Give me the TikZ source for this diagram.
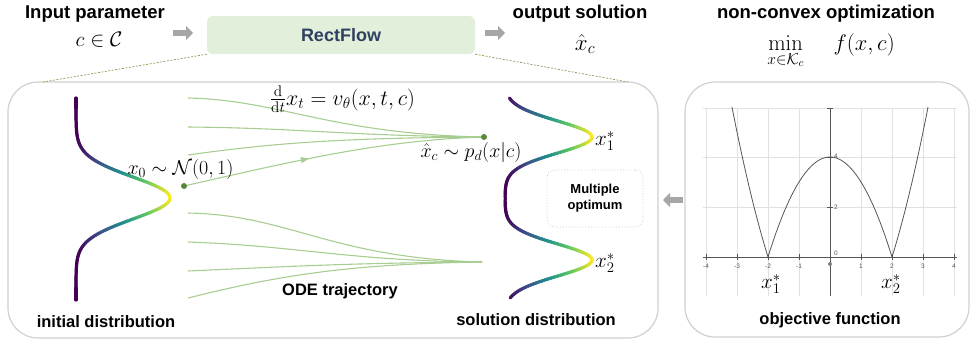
\RequirePackage{fix-cm}
\documentclass[tikz,border=0pt]{standalone}
\usepackage[no-math]{fontspec}
\usepackage{amsmath}
\newfontfamily\lsans{Liberation Sans}
\usetikzlibrary{arrows.meta,decorations.markings,calc}
\definecolor{virA}{RGB}{68,1,84}
\definecolor{virB}{RGB}{59,82,139}
\definecolor{virC}{RGB}{33,145,140}
\definecolor{virD}{RGB}{94,201,98}
\definecolor{virE}{RGB}{253,231,37}
\definecolor{traj}{RGB}{168,205,145}
\definecolor{dotg}{RGB}{90,135,60}
\definecolor{boxg}{RGB}{226,239,218}
\definecolor{navy}{RGB}{47,64,96}
\definecolor{arrg}{RGB}{166,166,166}
\definecolor{panelc}{RGB}{208,208,208}
\definecolor{dashg}{RGB}{130,160,90}
\definecolor{gridc}{RGB}{225,225,225}
\definecolor{axc}{RGB}{85,85,85}
\newcommand\setvir[1]{%
  \pgfmathsetmacro\vt{min(max(#1,0),1)*4}%
  \pgfmathtruncatemacro\vk{min(floor(\vt),3)}%
  \pgfmathtruncatemacro\vp{(\vt-\vk)*100}%
  \ifcase\vk \colorlet{cur}{virB!\vp!virA}\or \colorlet{cur}{virC!\vp!virB}\or
  \colorlet{cur}{virD!\vp!virC}\or \colorlet{cur}{virE!\vp!virD}\fi}
\begin{document}
\begin{tikzpicture}[x=1pt,y=-1pt,
  title/.style={font=\lsans\bfseries\fontsize{18.5}{20}\selectfont},
  lab/.style={font=\lsans\bfseries\fontsize{16.5}{18}\selectfont},
  mth/.style={font=\fontsize{20}{22}\selectfont, inner sep=1pt, anchor=base},
  mthb/.style={font=\fontsize{21}{24}\selectfont, inner sep=1pt},
  trajline/.style={traj, line width=1.1pt},
  blockarrow/.style={arrg, line width=6pt, -{Triangle[length=7pt,width=14pt]}},
  dashline/.style={dashg, dashed, dash pattern=on 2pt off 1.5pt, line width=0.7pt},
  panel/.style={draw=panelc, line width=1.2pt, rounded corners=30pt},
  gridl/.style={gridc, line width=0.8pt},
  axl/.style={axc, line width=0.8pt},
  ticklab/.style={font=\lsans\fontsize{6.5}{7}\selectfont, text=axc, inner sep=1pt},
  distc/.style={line width=3.2pt, line cap=round},
]
\useasboundingbox (0,0) rectangle (974,341);

% ---------- top row ----------
\node[title] (inp) at (95,14) {Input parameter};
\node[mthb, anchor=base] (cin) at (99,46.5) {$c\in\mathcal{C}$};
\node[title] (outs) at (580,14) {output solution};
\node[font=\fontsize{23}{26}\selectfont, inner sep=1pt, anchor=base] (xhat) at (585,50) {$\hat{x}_c$};
\node[title] (ncvx) at (826,14) {non-convex optimization};
\node[font=\fontsize{22.5}{26}\selectfont, inner sep=1pt, anchor=base] (minf) at (831,50)
  {$\displaystyle\min_{x\in\mathcal{K}_c}\hspace{26pt} f(x,c)$};
\node[fill=boxg, rounded corners=6pt, minimum width=268pt, minimum height=38pt,
      font=\lsans\bfseries\fontsize{18}{20}\selectfont, text=navy] (rect) at (341,35) {RectFlow};

\coordinate (a1s) at (173,33); \coordinate (a1e) at (193,33);
\coordinate (a2s) at (485,33); \coordinate (a2e) at (505,33);
\coordinate (a3s) at (683,200); \coordinate (a3e) at (663,200);
\draw[blockarrow] (a1s) -- (a1e);
\draw[blockarrow] (a2s) -- (a2e);
\draw[blockarrow] (a3s) -- (a3e);

% ---------- panels ----------
\node[panel, minimum width=650pt, minimum height=256pt] (lpanel) at (333,210) {};
\node[panel, minimum width=284pt, minimum height=255pt] (rpanel) at (827,209.5) {};
\coordinate (dl) at (43,82); \coordinate (dr) at (628,82);
\draw[dashline] (rect.south west) -- (dl);
\draw[dashline] (rect.south east) -- (dr);

% ---------- initial distribution ----------
\foreach \i in {98,...,299}{
  \pgfmathsetmacro\va{exp(-0.5*((\i-198)/21)^2)}
  \pgfmathsetmacro\vb{exp(-0.5*((\i+1-198)/21)^2)}
  \setvir{(\va+\vb)/2}
  \draw[distc, cur] ({76+94*\va},\i) -- ({76+94*\vb},\i+1);
}
% ---------- solution distribution ----------
\foreach \i in {98,...,297}{
  \pgfmathsetmacro\va{exp(-0.5*((\i-137)/16)^2)+exp(-0.5*((\i-260)/16)^2)}
  \pgfmathsetmacro\vb{exp(-0.5*((\i+1-137)/16)^2)+exp(-0.5*((\i+1-260)/16)^2)}
  \setvir{(\va+\vb)/2}
  \draw[distc, cur] ({505+87*\va},\i) -- ({505+87*\vb},\i+1);
}

% ---------- trajectories ----------
\coordinate (s1) at (188,98);  \coordinate (s2) at (188,127);
\coordinate (s3) at (188,155); \coordinate (x0dot) at (184,186);
\coordinate (s5) at (188,213); \coordinate (s6) at (188,242);
\coordinate (s7) at (188,271); \coordinate (s8) at (188,298);
\coordinate (e1) at (484,137); \coordinate (e2) at (482,262);
\draw[trajline] (s1) .. controls (280,100) and (330,134) .. (e1);
\draw[trajline] (s2) .. controls (300,128) and (350,136) .. (e1);
\draw[trajline] (s3) .. controls (280,142) and (350,138) .. (e1);
\draw[trajline, postaction={decorate},
  decoration={markings, mark=at position 0.42 with {\arrow{Triangle[length=8pt,width=6pt]}}}]
  (x0dot) .. controls (290,162) and (380,140) .. (e1);
\draw[trajline] (s5) .. controls (290,215) and (330,258) .. (e2);
\draw[trajline] (s6) .. controls (300,246) and (350,261) .. (e2);
\draw[trajline] (s7) .. controls (300,266) and (350,263) .. (e2);
\draw[trajline] (s8) .. controls (280,275) and (350,264) .. (e2);
\fill[dotg] (x0dot) circle (3pt);
\fill[dotg] (e1) circle (3pt);

\node[mth] (x0lab) at (180.5,174) {$x_0\sim\mathcal{N}(0,1)$};
\node[mth, font=\fontsize{22}{24}\selectfont] (ode) at (342.5,105) {$\frac{\mathrm{d}}{\mathrm{d}t}x_t = v_\theta(x,t,c)$};
\node[mth] (xclab) at (471,157) {$\hat{x}_c\sim p_d(x|c)$};
\node[mthb, anchor=west] (x1r) at (594,141) {$x_1^*$};
\node[mthb, anchor=west] (x2r) at (594,263) {$x_2^*$};
\node[draw=gray!45, dotted, line width=0.8pt, rounded corners=8pt, minimum width=96pt, minimum height=57pt,
      align=center, font=\lsans\bfseries\fontsize{13}{16}\selectfont] (mult) at (595,198.5) {Multiple\\optimum};

\node[lab] (initd) at (106,322) {initial distribution};
\node[lab] (sold) at (536,320) {solution distribution};
\node[lab] (odet) at (340,291) {ODE trajectory};

% ---------- objective plot ----------
\foreach \k in {-4,...,4} \draw[gridl] ({830+31*\k},108) -- ({830+31*\k},296);
\foreach \yy in {108,157,207} \draw[gridl] (703,\yy) -- (957,\yy);
\draw[axl] (703,257) -- (957,257);
\draw[axl] (830,108) -- (830,296);
\foreach \k in {-4,...,4} \draw[axl] ({830+31*\k},254) -- ({830+31*\k},260);
\foreach \yy in {108,157,207} \draw[axl] (827,\yy) -- (833,\yy);
\foreach \k [count=\n] in {-4,-3,-2,-1,1,2,3,4} \node[ticklab] (tk\n) at ({830+31*\k},266) {\k};
\node[ticklab, anchor=west] (ty0) at (833,253) {0};
\node[ticklab, anchor=west] (ty2) at (833,207) {2};
\node[ticklab, anchor=west] (ty4) at (833,156) {4};
\fill[gray] (830,264) circle (2pt);
\draw[axl, line join=round] plot[domain=-3.1623:-2, samples=30] ({830+31*\x},{257-25*(\x*\x-4)});
\draw[axl, line join=round] plot[domain=-2:2, samples=80] ({830+31*\x},{257-25*(4-\x*\x)});
\draw[axl, line join=round] plot[domain=2:3.1623, samples=30] ({830+31*\x},{257-25*(\x*\x-4)});
\node[mthb] (x1p) at (771,284) {$x_1^*$};
\node[mthb] (x2p) at (891,284) {$x_2^*$};
\node[lab] (objf) at (830,320) {objective function};
\end{tikzpicture}
\end{document}
